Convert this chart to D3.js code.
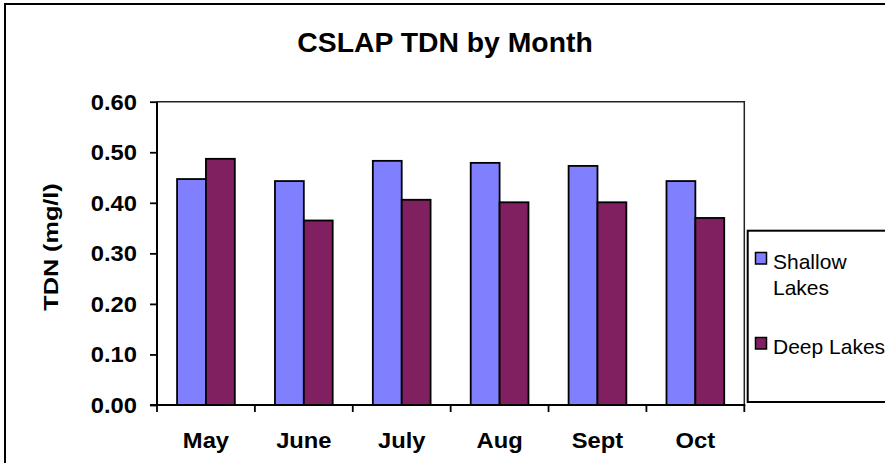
<!DOCTYPE html>
<html>
<head>
<meta charset="utf-8">
<script src="https://cdn.jsdelivr.net/npm/d3@7/dist/d3.min.js"></script>
<style>
  html, body { margin: 0; padding: 0; background: #fff; }
  svg { display: block; font-family: "Liberation Sans", Arial, sans-serif; }
</style>
</head>
<body>
<svg id="chart" width="885" height="463"></svg>
<script>
// Monthly mean TDN (mg/l) for CSLAP shallow and deep lakes
const months = ["May", "June", "July", "Aug", "Sept", "Oct"];
const seriesNames = ["Shallow Lakes", "Deep Lakes"];
const shallowLakes = [0.447, 0.443, 0.483, 0.479, 0.473, 0.443];
const deepLakes = [0.487, 0.365, 0.406, 0.401, 0.401, 0.370];
const yTicks = [0, 0.1, 0.2, 0.3, 0.4, 0.5, 0.6];
const seriesColors = ["#8080FF", "#802060"];

const svg = d3.select("#chart");

// plot frame
const plot = { left: 157, right: 744.3, top: 101.7, bottom: 405 };

// outer chart border (continues past the visible edge)
svg.append("rect")
  .attr("x", 5).attr("y", 4)
  .attr("width", 920).attr("height", 500)
  .attr("fill", "#fff").attr("stroke", "#000").attr("stroke-width", 2);

const x0 = d3.scaleBand().domain(months).range([plot.left, plot.right]).padding(0);
const groupGap = x0.bandwidth() * 0.205;
const x1 = d3.scaleBand().domain(seriesNames).range([groupGap, x0.bandwidth() - groupGap]).padding(0);
const y = d3.scaleLinear().domain([0, 0.6]).range([plot.bottom, plot.top]);

// stretched text helper: draws text with a horizontal scale factor
function label(g, txt, x, yPos, opts) {
  return g.append("text")
    .attr("transform", `translate(${x},${yPos}) rotate(${opts.rotate || 0}) scale(${opts.sx || 1},1)`)
    .attr("text-anchor", opts.anchor || "middle")
    .attr("font-size", opts.size)
    .attr("font-weight", opts.weight || "bold")
    .attr("fill", "#000")
    .text(txt);
}

// plot area top/right border
svg.append("path")
  .attr("d", `M${plot.left},${plot.top}H${plot.right}V${plot.bottom}`)
  .attr("fill", "none").attr("stroke", "#222").attr("stroke-width", 1.5);

// bars
const rows = months.map((m, i) => ({ month: m, values: [shallowLakes[i], deepLakes[i]] }));
const groups = svg.append("g").selectAll("g").data(rows).join("g")
  .attr("transform", d => `translate(${x0(d.month)},0)`);
groups.selectAll("rect")
  .data(d => d.values.map((v, k) => ({ key: seriesNames[k], value: v, k })))
  .join("rect")
  .attr("x", d => x1(d.key))
  .attr("y", d => y(d.value))
  .attr("width", x1.bandwidth())
  .attr("height", d => y(0) - y(d.value))
  .attr("fill", d => seriesColors[d.k])
  .attr("stroke", "#000").attr("stroke-width", 1.8);

// y axis
const yAxis = d3.axisLeft(y).tickValues(yTicks).tickSize(7).tickFormat("");
const yg = svg.append("g").attr("transform", `translate(${plot.left},0)`).call(yAxis);
yg.select(".domain").attr("stroke", "#000").attr("stroke-width", 2).attr("d", `M0,${plot.top}V${plot.bottom}`);
yg.selectAll(".tick line").attr("stroke", "#000").attr("stroke-width", 1.8);
yTicks.forEach(v => {
  label(svg, d3.format(".2f")(v), 137, y(v) + 8, { size: 22, sx: 1.08, anchor: "end" });
});

// x axis with ticks on category boundaries
const boundaries = months.map(m => x0(m)).concat([plot.right]);
const xg = svg.append("g");
xg.append("line")
  .attr("x1", plot.left - 7).attr("x2", plot.right + 1)
  .attr("y1", plot.bottom).attr("y2", plot.bottom)
  .attr("stroke", "#000").attr("stroke-width", 2);
xg.selectAll("line.tick").data(boundaries).join("line")
  .attr("class", "tick")
  .attr("x1", d => d).attr("x2", d => d)
  .attr("y1", plot.bottom).attr("y2", plot.bottom + 7)
  .attr("stroke", "#000").attr("stroke-width", 1.8);
months.forEach(m => {
  label(svg, m, x0(m) + x0.bandwidth() / 2, 447.5, { size: 22, sx: 1.08 });
});

// axis title
label(svg, "TDN (mg/l)", 58, 247, { size: 21, sx: 1.2, rotate: -90 });

// chart title
label(svg, "CSLAP TDN by Month", 445, 52, { size: 27, sx: 1.05 });

// legend
const legend = svg.append("g");
legend.append("rect")
  .attr("x", 747.7).attr("y", 230.7).attr("width", 150).attr("height", 171.3)
  .attr("fill", "#fff").attr("stroke", "#000").attr("stroke-width", 2);
const legendRows = [
  { lines: ["Shallow", "Lakes"], sy: 252.5 },
  { lines: ["Deep Lakes"], sy: 337.5 }
];
legendRows.forEach((r, k) => {
  legend.append("rect")
    .attr("x", 755.5).attr("y", r.sy).attr("width", 11).attr("height", 11.5)
    .attr("fill", seriesColors[k]).attr("stroke", "#000").attr("stroke-width", 1.5);
  r.lines.forEach((ln, j) => {
    label(legend, ln, 773, r.sy + 16.5 + j * 26, { size: 21, weight: "normal", anchor: "start" });
  });
});
</script>
</body>
</html>
